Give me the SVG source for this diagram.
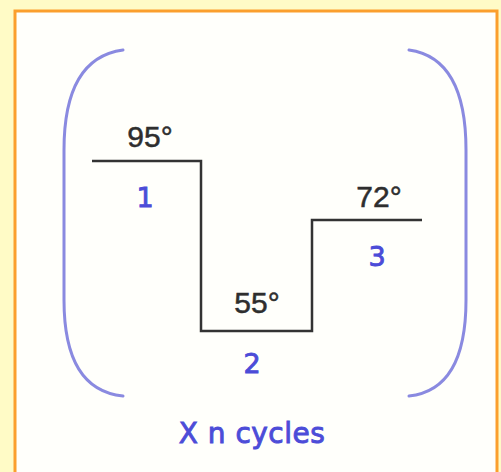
<svg xmlns="http://www.w3.org/2000/svg" width="501" height="472" viewBox="0 0 501 472">
<style>
.temp{font-family:"Liberation Sans",Arial,sans-serif;font-size:30px;fill:#2e2e2e;text-anchor:middle;stroke:#2e2e2e;stroke-width:0.5}
.lbl{font-family:"DejaVu Sans",sans-serif;font-size:27px;fill:#4c4cd8;text-anchor:middle;stroke:#4c4cd8;stroke-width:0.9}
.br{fill:none;stroke:#8a8ae0;stroke-width:3;stroke-linecap:round}
</style>
<rect width="501" height="472" fill="#fffbc6"/>
<rect x="15" y="11" width="482" height="470" fill="#fffffb" stroke="#fb9f2d" stroke-width="3"/>
<g id="brackets">
<path class="br" d="M123,50 Q64,58 64,150 L64,300 Q64,390 123,396"/>
<path class="br" d="M409,50 Q466,58 466,150 L466,300 Q466,390 409,396"/>
</g>
<g id="connectors">
<polyline points="92,161 201,161 201,331 312,331 312,220 422,220" fill="none" stroke="#333" stroke-width="2.5"/>
</g>
<g id="step1">
<text class="temp" x="150" y="147">95°</text>
<text class="lbl" x="145" y="207">1</text>
</g>
<g id="step2">
<text class="temp" x="257" y="313">55°</text>
<text class="lbl" x="252" y="373">2</text>
</g>
<g id="step3">
<text class="temp" x="379" y="207">72°</text>
<text class="lbl" x="377" y="266">3</text>
</g>
<text class="lbl" x="252" y="443" style="font-size:28px;letter-spacing:0.5px">X n cycles</text>
</svg>
